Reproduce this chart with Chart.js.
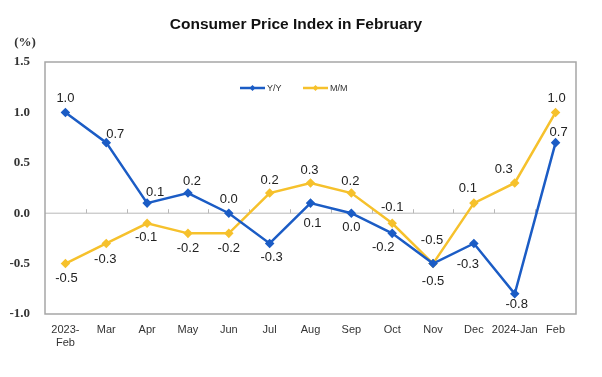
<!DOCTYPE html>
<html>
<head>
<meta charset="utf-8">
<script src="https://cdn.jsdelivr.net/npm/chart.js@4/dist/chart.umd.min.js"></script>
<style>
  body { margin: 0; background: #fff; }
  #wrap { width: 602px; height: 377px; position: relative; }
</style>
</head>
<body>
<div id="wrap"><canvas id="cpiChart"></canvas></div>
<script>
const months = [['2023-', 'Feb'], 'Mar', 'Apr', 'May', 'Jun', 'Jul', 'Aug', 'Sep', 'Oct', 'Nov', 'Dec', '2024-Jan', 'Feb'];
const yoy = [1.0, 0.7, 0.1, 0.2, 0.0, -0.3, 0.1, 0.0, -0.2, -0.5, -0.3, -0.8, 0.7];
const mom = [-0.5, -0.3, -0.1, -0.2, -0.2, 0.2, 0.3, 0.2, -0.1, -0.5, 0.1, 0.3, 1.0];

const BLUE = '#1b5cc5';
const YELLOW = '#f6c12c';

// label nudges (px) per point, picked by eye
const yoyNudge = [[0,-14],[9,-8],[8,-11],[4,-12],[0,-14],[2,14],[2,20],[0,14],[-9,14],[0,18],[-6,21],[2,11],[3,-10]];
const momNudge = [[1,15],[-1,16],[-1,14],[0,15],[0,15],[0,-13],[-1,-13],[-1,-12],[0,-16],[-1,-23],[-6,-15],[-11,-14],[1,-14]];

const extras = {
    id: 'extras',
    beforeDatasetsDraw(chart) {
        const { ctx, chartArea: a, scales } = chart;
        ctx.save();
        // zero line with small ticks at category edges
        const y0 = scales.y.getPixelForValue(0);
        ctx.strokeStyle = '#b8b8b8';
        ctx.lineWidth = 1;
        ctx.beginPath();
        ctx.moveTo(a.left, y0);
        ctx.lineTo(a.right, y0);
        const w = (a.right - a.left) / months.length;
        for (let k = 1; k < months.length; k++) {
            const x = Math.round(a.left + w * k) + 0.5;
            ctx.moveTo(x, y0);
            ctx.lineTo(x, y0 - 4);
        }
        ctx.stroke();
        // box
        ctx.strokeStyle = '#a6a6a6';
        ctx.lineWidth = 1.5;
        ctx.strokeRect(a.left, a.top, a.right - a.left, a.bottom - a.top);
        ctx.restore();
    },
    afterDatasetsDraw(chart) {
        const { ctx } = chart;
        ctx.save();
        ctx.font = '13px Arial, "Liberation Sans"';
        ctx.fillStyle = '#222';
        ctx.textAlign = 'center';
        ctx.textBaseline = 'middle';
        [yoyNudge, momNudge].forEach((nudge, d) => {
            const meta = chart.getDatasetMeta(d);
            const vals = chart.data.datasets[d].data;
            meta.data.forEach((pt, i) => {
                ctx.fillText(vals[i].toFixed(1), pt.x + nudge[i][0], pt.y + nudge[i][1]);
            });
        });
        // title and unit
        ctx.font = 'bold 15.5px Arial, "Liberation Sans"';
        ctx.fillStyle = '#111';
        ctx.fillText('Consumer Price Index in February', 296, 25);
        ctx.font = 'bold 13px "Liberation Serif", serif';
        ctx.fillStyle = '#333';
        ctx.fillText('(%)', 25, 43);
        // legend inside plot
        const items = [['Y/Y', BLUE, 240], ['M/M', YELLOW, 303]];
        ctx.font = '9px Arial, "Liberation Sans"';
        ctx.textAlign = 'left';
        items.forEach(([txt, col, x]) => {
            const y = 88;
            ctx.strokeStyle = col;
            ctx.lineWidth = 2.5;
            ctx.beginPath();
            ctx.moveTo(x, y);
            ctx.lineTo(x + 25, y);
            ctx.stroke();
            ctx.fillStyle = col;
            ctx.beginPath();
            ctx.moveTo(x + 12.5, y - 3);
            ctx.lineTo(x + 15.5, y);
            ctx.lineTo(x + 12.5, y + 3);
            ctx.lineTo(x + 9.5, y);
            ctx.closePath();
            ctx.fill();
            ctx.fillStyle = '#333';
            ctx.fillText(txt, x + 27, y + 1);
        });
        ctx.restore();
    }
};

new Chart(document.getElementById('cpiChart').getContext('2d'), {
    type: 'line',
    data: {
        labels: months,
        datasets: [{
            label: 'Y/Y',
            data: yoy,
            borderColor: BLUE,
            backgroundColor: BLUE,
            borderWidth: 2.5,
            pointStyle: 'rectRot',
            pointRadius: 3,
            tension: 0
        }, {
            label: 'M/M',
            data: mom,
            borderColor: YELLOW,
            backgroundColor: YELLOW,
            borderWidth: 2.5,
            pointStyle: 'rectRot',
            pointRadius: 3,
            tension: 0
        }]
    },
    options: {
        responsive: true,
        maintainAspectRatio: false,
        animation: false,
        layout: { padding: { top: 62, right: 26, bottom: 0, left: 0 } },
        plugins: {
            legend: { display: false },
            tooltip: { enabled: false }
        },
        scales: {
            x: {
                offset: true,
                grid: { display: false, drawTicks: false },
                border: { display: false },
                ticks: {
                    padding: 9,
                    color: '#333',
                    maxRotation: 0,
                    autoSkip: false,
                    font: { family: 'Arial, "Liberation Sans"', size: 11 }
                },
                afterFit: s => { s.height = 63; }
            },
            y: {
                min: -1,
                max: 1.5,
                grid: { display: false, drawTicks: false },
                border: { display: false },
                ticks: {
                    stepSize: 0.5,
                    padding: 15,
                    color: '#333',
                    font: { family: '"Liberation Serif", serif', size: 13, weight: 'bold' },
                    callback: v => v.toFixed(1)
                },
                afterFit: s => { s.width = 45; }
            }
        }
    },
    plugins: [extras]
});
</script>
</body>
</html>
